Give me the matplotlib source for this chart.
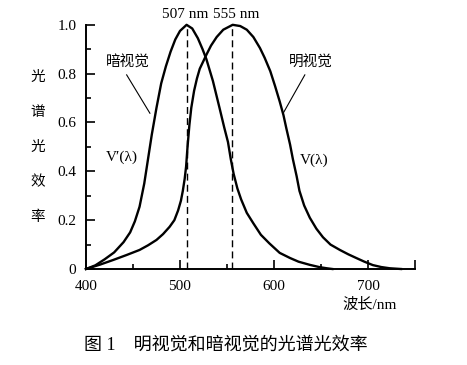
import matplotlib
matplotlib.use('Agg')
import matplotlib.pyplot as plt
from matplotlib.ticker import FixedLocator

plt.rcParams['font.family'] = ['Liberation Serif', 'Noto Sans CJK SC', 'DejaVu Sans']

# scotopic V'(lambda)
scot_wl = [400, 410, 420, 430, 440, 447, 452, 457, 462, 466, 470, 475, 480, 485,
           490, 495, 500, 507, 513, 519, 524, 528, 535, 542, 547, 551, 554, 557,
           561, 565, 571, 578, 586, 595, 606, 617, 626, 638, 648, 656, 662]
scot_v = [0, 0.015, 0.04, 0.068, 0.11, 0.15, 0.195, 0.255, 0.35, 0.45, 0.55, 0.66,
          0.76, 0.83, 0.89, 0.94, 0.975, 1.0, 0.985, 0.945, 0.9, 0.86, 0.77, 0.66,
          0.58, 0.52, 0.45, 0.39, 0.33, 0.285, 0.23, 0.187, 0.14, 0.105, 0.066,
          0.045, 0.03, 0.017, 0.008, 0.003, 0]

# photopic V(lambda)
phot_wl = [400, 415, 429, 443, 457, 466, 475, 482, 489, 494, 498, 501, 503, 505,
           506.5, 508, 510, 512, 515, 518, 521, 528, 533, 539, 546, 556, 564, 571,
           578, 585, 590, 596, 601, 606, 610, 613, 617, 620, 624, 627, 632, 638,
           645, 652, 660, 670, 679, 688, 696, 705, 714, 723, 735]
phot_v = [0, 0.018, 0.037, 0.057, 0.078, 0.097, 0.119, 0.143, 0.173, 0.2, 0.24,
          0.28, 0.32, 0.37, 0.42, 0.5, 0.59, 0.66, 0.73, 0.78, 0.82, 0.877, 0.915,
          0.95, 0.98, 1.0, 0.995, 0.98, 0.95, 0.905, 0.865, 0.81, 0.75, 0.686, 0.63,
          0.577, 0.51, 0.45, 0.38, 0.32, 0.26, 0.21, 0.165, 0.13, 0.1, 0.078, 0.06,
          0.044, 0.03, 0.016, 0.008, 0.003, 0]

peaks = [507, 555]
peak_labels = ['507 nm', '555 nm']
x_ticks = [400, 500, 600, 700, 750]
x_ticklabels = ['400', '500', '600', '700', '']
y_ticks = [0, 0.2, 0.4, 0.6, 0.8, 1.0]
y_ticklabels = ['0', '0.2', '0.4', '0.6', '0.8', '1.0']

fig = plt.figure(figsize=(4.67, 3.65), dpi=100)
ax = fig.add_axes([0.184, 0.263, 0.705, 0.669])

ax.plot(scot_wl, scot_v, color='black', lw=1.7, clip_on=False)
ax.plot(phot_wl, phot_v, color='black', lw=1.7, clip_on=False)

for p, lab in zip(peaks, peak_labels):
    ax.plot([p, p], [0, 1.0], color='black', lw=1, ls=(0, (5, 3)))
    ax.text(p + (-1 if p < 530 else 5), 1.015, lab, ha='center', va='bottom', fontsize=11)

ax.set_xlim(400, 750)
ax.set_ylim(0, 1.0)
for s in ['top', 'right']:
    ax.spines[s].set_visible(False)
for s in ['left', 'bottom']:
    ax.spines[s].set_linewidth(1.4)

ax.xaxis.set_major_locator(FixedLocator(x_ticks))
ax.set_xticklabels(x_ticklabels)
ax.xaxis.set_minor_locator(FixedLocator([450, 550, 650]))
ax.yaxis.set_major_locator(FixedLocator(y_ticks))
ax.set_yticklabels(y_ticklabels)
ax.yaxis.set_minor_locator(FixedLocator([0.1, 0.3, 0.5, 0.7, 0.9]))
ax.tick_params(which='major', direction='in', length=6.5, width=1.2, labelsize=11, pad=7)
ax.tick_params(which='minor', direction='in', length=3.6, width=1.2)
ax.tick_params(axis='x', which='major', pad=8)

# curve annotations
ax.text(444, 0.844, '暗视觉', ha='center', va='center', fontsize=10.5,
        family=['Noto Sans CJK SC'])
ax.plot([443.3, 468], [0.795, 0.638], color='black', lw=0.8)
ax.text(638.6, 0.844, '明视觉', ha='center', va='center', fontsize=10.5,
        family=['Noto Sans CJK SC'])
ax.plot([632.7, 609.7], [0.795, 0.638], color='black', lw=0.8)
ax.text(438, 0.459, 'V′(λ)', ha='center', va='center', fontsize=11)
ax.text(643, 0.447, 'V(λ)', ha='center', va='center', fontsize=11)

# y label, characters stacked
fig.text(0.081, 0.597, '光\n谱\n光\n效\n率', ha='center', va='center', fontsize=10.5,
         linespacing=2.9, family=['Noto Sans CJK SC'])
fig.text(0.792, 0.164, '波长/nm', ha='center', va='center', fontsize=11)
fig.text(0.483, 0.055, '图 1\u3000明视觉和暗视觉的光谱光效率', ha='center', va='center',
         fontsize=13)

fig.savefig('out.png', dpi=100)
